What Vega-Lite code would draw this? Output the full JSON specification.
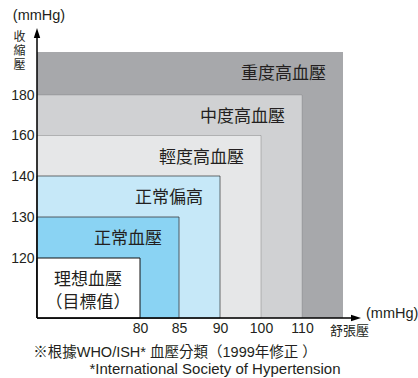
{
  "$schema": "https://vega.github.io/schema/vega-lite/v6.json",
  "width": 324,
  "height": 290,
  "autosize": {"type": "none"},
  "padding": {"left": 37, "top": 28, "right": 57, "bottom": 60},
  "background": "white",
  "config": {"view": {"stroke": null}, "font": "Liberation Sans"},
  "datasets": {
    "levels": [
      {"level": "重度高血壓", "label": "重度高血壓", "diastolic": 120, "systolic": 200},
      {"level": "中度高血壓", "label": "中度高血壓", "diastolic": 110, "systolic": 180},
      {"level": "輕度高血壓", "label": "輕度高血壓", "diastolic": 100, "systolic": 160},
      {"level": "正常偏高", "label": "正常偏高", "diastolic": 90, "systolic": 140},
      {"level": "正常血壓", "label": "正常血壓", "diastolic": 85, "systolic": 130},
      {"level": "理想血壓", "label": "理想血壓\n（目標值）", "diastolic": 80, "systolic": 120}
    ],
    "one": [{"note": 1}]
  },
  "layer": [
    {
      "data": {"name": "levels"},
      "mark": {"type": "rect"},
      "encoding": {
        "x": {
          "field": "diastolic",
          "type": "quantitative",
          "scale": {
            "domain": [60, 80, 85, 90, 100, 110, 120, 125],
            "range": [0, 103, 142, 183, 224, 265, 306, 324],
            "zero": false,
            "nice": false
          },
          "axis": {
            "title": "舒張壓",
            "values": [80, 85, 90, 100, 110],
            "grid": false,
            "ticks": false,
            "tickSize": 0,
            "domain": false,
            "labelFont": "Liberation Sans",
            "labelFontSize": 14,
            "labelColor": "#231f20",
            "labelPadding": 3,
            "labelAlign": "center",
            "labelBaseline": "top",
            "titleFont": "Noto Sans CJK TC",
            "titleFontSize": 13,
            "titleFontWeight": "normal",
            "titleColor": "#231f20",
            "titleX": 312,
            "titleY": 12,
            "titleAlign": "center",
            "titleBaseline": "middle"
          }
        },
        "y": {
          "field": "systolic",
          "type": "quantitative",
          "scale": {
            "domain": [100, 120, 130, 140, 160, 180, 200, 210],
            "range": [290, 230, 189, 148, 107.5, 67, 24, 0],
            "zero": false,
            "nice": false
          },
          "axis": {
            "title": ["收", "縮", "壓"],
            "values": [120, 130, 140, 160, 180],
            "grid": false,
            "ticks": false,
            "tickSize": 0,
            "domain": false,
            "labelFont": "Liberation Sans",
            "labelFontSize": 14,
            "labelColor": "#231f20",
            "labelPadding": 3,
            "labelBaseline": "middle",
            "titleFont": "Noto Sans CJK TC",
            "titleFontSize": 12,
            "titleFontWeight": "normal",
            "titleColor": "#231f20",
            "titleAngle": 0,
            "titleX": -18,
            "titleY": 8,
            "titleAlign": "center",
            "titleBaseline": "middle",
            "titleLineHeight": 14
          }
        },
        "x2": {"datum": 60},
        "y2": {"datum": 100},
        "fill": {
          "field": "level",
          "type": "nominal",
          "scale": {
            "domain": ["重度高血壓", "中度高血壓", "輕度高血壓", "正常偏高", "正常血壓", "理想血壓"],
            "range": ["#a7a8ab", "#d0d1d3", "#e6e7e8", "#c6e8f8", "#8ad3f3", "#ffffff"]
          },
          "legend": null
        },
        "stroke": {
          "field": "level",
          "type": "nominal",
          "scale": {
            "domain": ["重度高血壓", "中度高血壓", "輕度高血壓", "正常偏高", "正常血壓", "理想血壓"],
            "range": ["#a7a8ab", "#4d4d4f", "#707072", "#111111", "#3a3a3c", "#111111"]
          },
          "legend": null
        },
        "strokeWidth": {
          "field": "level",
          "type": "ordinal",
          "scale": {
            "domain": ["重度高血壓", "中度高血壓", "輕度高血壓", "正常偏高", "正常血壓", "理想血壓"],
            "range": [0, 1, 1, 2.8, 1, 2.8]
          },
          "legend": null
        }
      }
    },
    {
      "data": {"name": "levels"},
      "transform": [{"filter": "datum.level !== '理想血壓'"}],
      "mark": {
        "type": "text",
        "align": "right",
        "baseline": "middle",
        "dx": -17,
        "dy": 22,
        "font": "Noto Sans CJK TC",
        "fontSize": 17,
        "color": "#231f20"
      },
      "encoding": {
        "x": {"field": "diastolic", "type": "quantitative"},
        "y": {"field": "systolic", "type": "quantitative"},
        "text": {"field": "label"}
      }
    },
    {
      "data": {"name": "levels"},
      "transform": [{"filter": "datum.level === '理想血壓'"}],
      "mark": {
        "type": "text",
        "align": "center",
        "baseline": "middle",
        "dx": -52,
        "dy": 22,
        "lineBreak": "\n",
        "lineHeight": 23,
        "font": "Noto Sans CJK TC",
        "fontSize": 17,
        "color": "#231f20"
      },
      "encoding": {
        "x": {"field": "diastolic", "type": "quantitative"},
        "y": {"field": "systolic", "type": "quantitative"},
        "text": {"field": "label"}
      }
    },
    {
      "data": {"name": "one"},
      "mark": {"type": "rule", "color": "#000000", "strokeWidth": 1.5},
      "encoding": {
        "x": {"datum": 60, "type": "quantitative"},
        "y": {"datum": 100, "type": "quantitative"},
        "y2": {"datum": 208}
      }
    },
    {
      "data": {"name": "one"},
      "mark": {"type": "rule", "color": "#000000", "strokeWidth": 1.5},
      "encoding": {
        "x": {"datum": 60, "type": "quantitative"},
        "x2": {"datum": 123},
        "y": {"datum": 100, "type": "quantitative"}
      }
    },
    {
      "data": {"name": "one"},
      "mark": {
        "type": "point",
        "shape": "M0,0L-0.4,1.25L0.4,1.25Z",
        "size": 256,
        "filled": true,
        "strokeWidth": 0,
        "color": "#000000",
        "opacity": 1
      },
      "encoding": {
        "x": {"datum": 60, "type": "quantitative"},
        "y": {"datum": 210, "type": "quantitative"}
      }
    },
    {
      "data": {"name": "one"},
      "mark": {
        "type": "point",
        "shape": "M0,0L-1.25,-0.4L-1.25,0.4Z",
        "size": 256,
        "filled": true,
        "strokeWidth": 0,
        "color": "#000000",
        "opacity": 1
      },
      "encoding": {
        "x": {"datum": 125, "type": "quantitative"},
        "y": {"datum": 100, "type": "quantitative"}
      }
    },
    {
      "data": {"name": "one"},
      "mark": {
        "type": "text",
        "align": "center",
        "baseline": "middle",
        "dx": 2,
        "dy": -12,
        "font": "Liberation Sans",
        "fontSize": 14.5,
        "color": "#231f20"
      },
      "encoding": {
        "x": {"datum": 60, "type": "quantitative"},
        "y": {"datum": 210, "type": "quantitative"},
        "text": {"value": "(mmHg)"}
      }
    },
    {
      "data": {"name": "one"},
      "mark": {
        "type": "text",
        "align": "left",
        "baseline": "middle",
        "dx": 5,
        "dy": -4,
        "font": "Liberation Sans",
        "fontSize": 14.5,
        "color": "#231f20"
      },
      "encoding": {
        "x": {"datum": 125, "type": "quantitative"},
        "y": {"datum": 100, "type": "quantitative"},
        "text": {"value": "(mmHg)"}
      }
    },
    {
      "data": {"name": "one"},
      "mark": {
        "type": "text",
        "align": "center",
        "baseline": "middle",
        "dx": 138,
        "dy": 35,
        "font": "Liberation Sans, Noto Sans CJK TC",
        "fontSize": 14.5,
        "color": "#231f20"
      },
      "encoding": {
        "x": {"datum": 60, "type": "quantitative"},
        "y": {"datum": 100, "type": "quantitative"},
        "text": {"value": "※根據WHO/ISH*  血壓分類（1999年修正 ）"}
      }
    },
    {
      "data": {"name": "one"},
      "mark": {
        "type": "text",
        "align": "center",
        "baseline": "middle",
        "dx": 178,
        "dy": 51,
        "font": "Liberation Sans, Noto Sans CJK TC",
        "fontSize": 15,
        "color": "#231f20"
      },
      "encoding": {
        "x": {"datum": 60, "type": "quantitative"},
        "y": {"datum": 100, "type": "quantitative"},
        "text": {"value": "*International Society of Hypertension"}
      }
    }
  ]
}
